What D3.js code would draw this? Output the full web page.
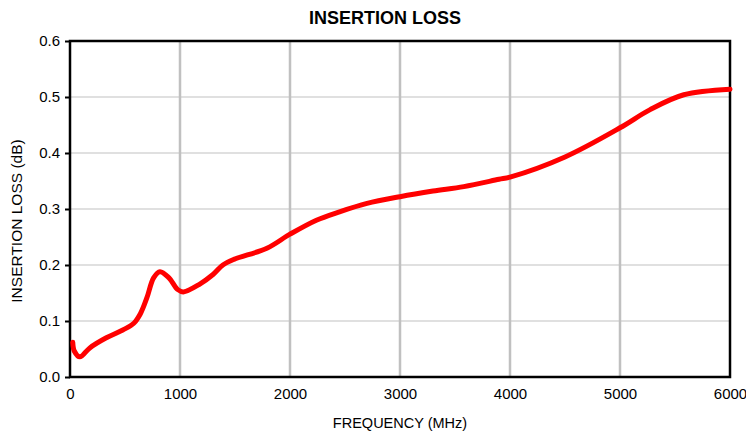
<!DOCTYPE html>
<html>
<head>
<meta charset="utf-8">
<script src="https://cdn.jsdelivr.net/npm/d3@7"></script>
<style>
  body { margin: 0; background: #fff; }
  text { font-family: "Liberation Sans", Arial, sans-serif; fill: #000; }
</style>
</head>
<body>
<svg id="chart" width="746" height="437"></svg>
<script>
// frequency (MHz) and insertion loss (dB)
const freq = [25, 40, 90, 180, 330, 480, 580, 640, 700, 760, 818, 900, 980, 1030, 1180, 1300, 1390, 1490, 1790, 2000, 2240, 2450, 2700, 3000, 3300, 3580, 3900, 4000, 4500, 5000, 5270, 5580, 6000];
const loss = [0.062, 0.046, 0.036, 0.052, 0.070, 0.084, 0.096, 0.113, 0.142, 0.177, 0.188, 0.177, 0.156, 0.152, 0.166, 0.183, 0.200, 0.210, 0.230, 0.255, 0.280, 0.295, 0.310, 0.322, 0.332, 0.340, 0.353, 0.357, 0.393, 0.445, 0.477, 0.504, 0.514];
const xTicks = [0, 1000, 2000, 3000, 4000, 5000, 6000];
const yTicks = [0, 0.1, 0.2, 0.3, 0.4, 0.5, 0.6];

const svg = d3.select("#chart");
const m = { left: 70, right: 16, top: 41, bottom: 60 };
const W = 746, H = 437;

const x = d3.scaleLinear().domain([0, 6000]).range([m.left, W - m.right]);
const y = d3.scaleLinear().domain([0, 0.6]).range([H - m.bottom, m.top]);

// gridlines
svg.append("g").selectAll("line")
  .data(yTicks.slice(1, -1))
  .enter().append("line")
  .attr("x1", x(0)).attr("x2", x(6000))
  .attr("y1", d => y(d)).attr("y2", d => y(d))
  .attr("stroke", "#e0e0e0").attr("stroke-width", 2);

svg.append("g").selectAll("line")
  .data(xTicks.slice(1, -1))
  .enter().append("line")
  .attr("x1", d => x(d)).attr("x2", d => x(d))
  .attr("y1", y(0)).attr("y2", y(0.6))
  .attr("stroke", "#c0c0c0").attr("stroke-width", 2.5);

// frame
svg.append("rect")
  .attr("x", x(0)).attr("y", y(0.6))
  .attr("width", x(6000) - x(0)).attr("height", y(0) - y(0.6))
  .attr("fill", "none").attr("stroke", "#000").attr("stroke-width", 2.5);

// axes
const yAxis = svg.append("g")
  .attr("transform", `translate(${x(0)},0)`)
  .call(d3.axisLeft(y).tickValues(yTicks).tickFormat(d3.format(".1f")).tickSize(5).tickPadding(5));
yAxis.select(".domain").remove();
yAxis.selectAll("line").attr("stroke", "#000").attr("stroke-width", 2);
yAxis.selectAll("text").style("font-size", "15px").style("font-family", "Liberation Sans, Arial, sans-serif");

const xAxis = svg.append("g")
  .attr("transform", `translate(0,${y(0)})`)
  .call(d3.axisBottom(x).tickValues(xTicks).tickFormat(d3.format("d")).tickSize(0).tickPadding(11));
xAxis.select(".domain").remove();
xAxis.selectAll("text").style("font-size", "15px").style("font-family", "Liberation Sans, Arial, sans-serif");

// data line
const line = d3.line()
  .x((d, i) => x(freq[i]))
  .y(d => y(d))
  .curve(d3.curveCatmullRom.alpha(0.5));

svg.append("path")
  .datum(loss)
  .attr("d", line)
  .attr("fill", "none")
  .attr("stroke", "#ff0000")
  .attr("stroke-width", 5)
  .attr("stroke-linejoin", "round")
  .attr("stroke-linecap", "round");

// titles
svg.append("text")
  .attr("x", 385).attr("y", 24)
  .attr("text-anchor", "middle")
  .style("font-size", "18px").style("font-weight", "bold")
  .text("INSERTION LOSS");

svg.append("text")
  .attr("x", 400).attr("y", 428)
  .attr("text-anchor", "middle")
  .style("font-size", "14.5px")
  .text("FREQUENCY (MHz)");

svg.append("text")
  .attr("transform", "translate(22,221) rotate(-90)")
  .attr("text-anchor", "middle")
  .style("font-size", "15.5px")
  .text("INSERTION LOSS (dB)");
</script>
</body>
</html>
